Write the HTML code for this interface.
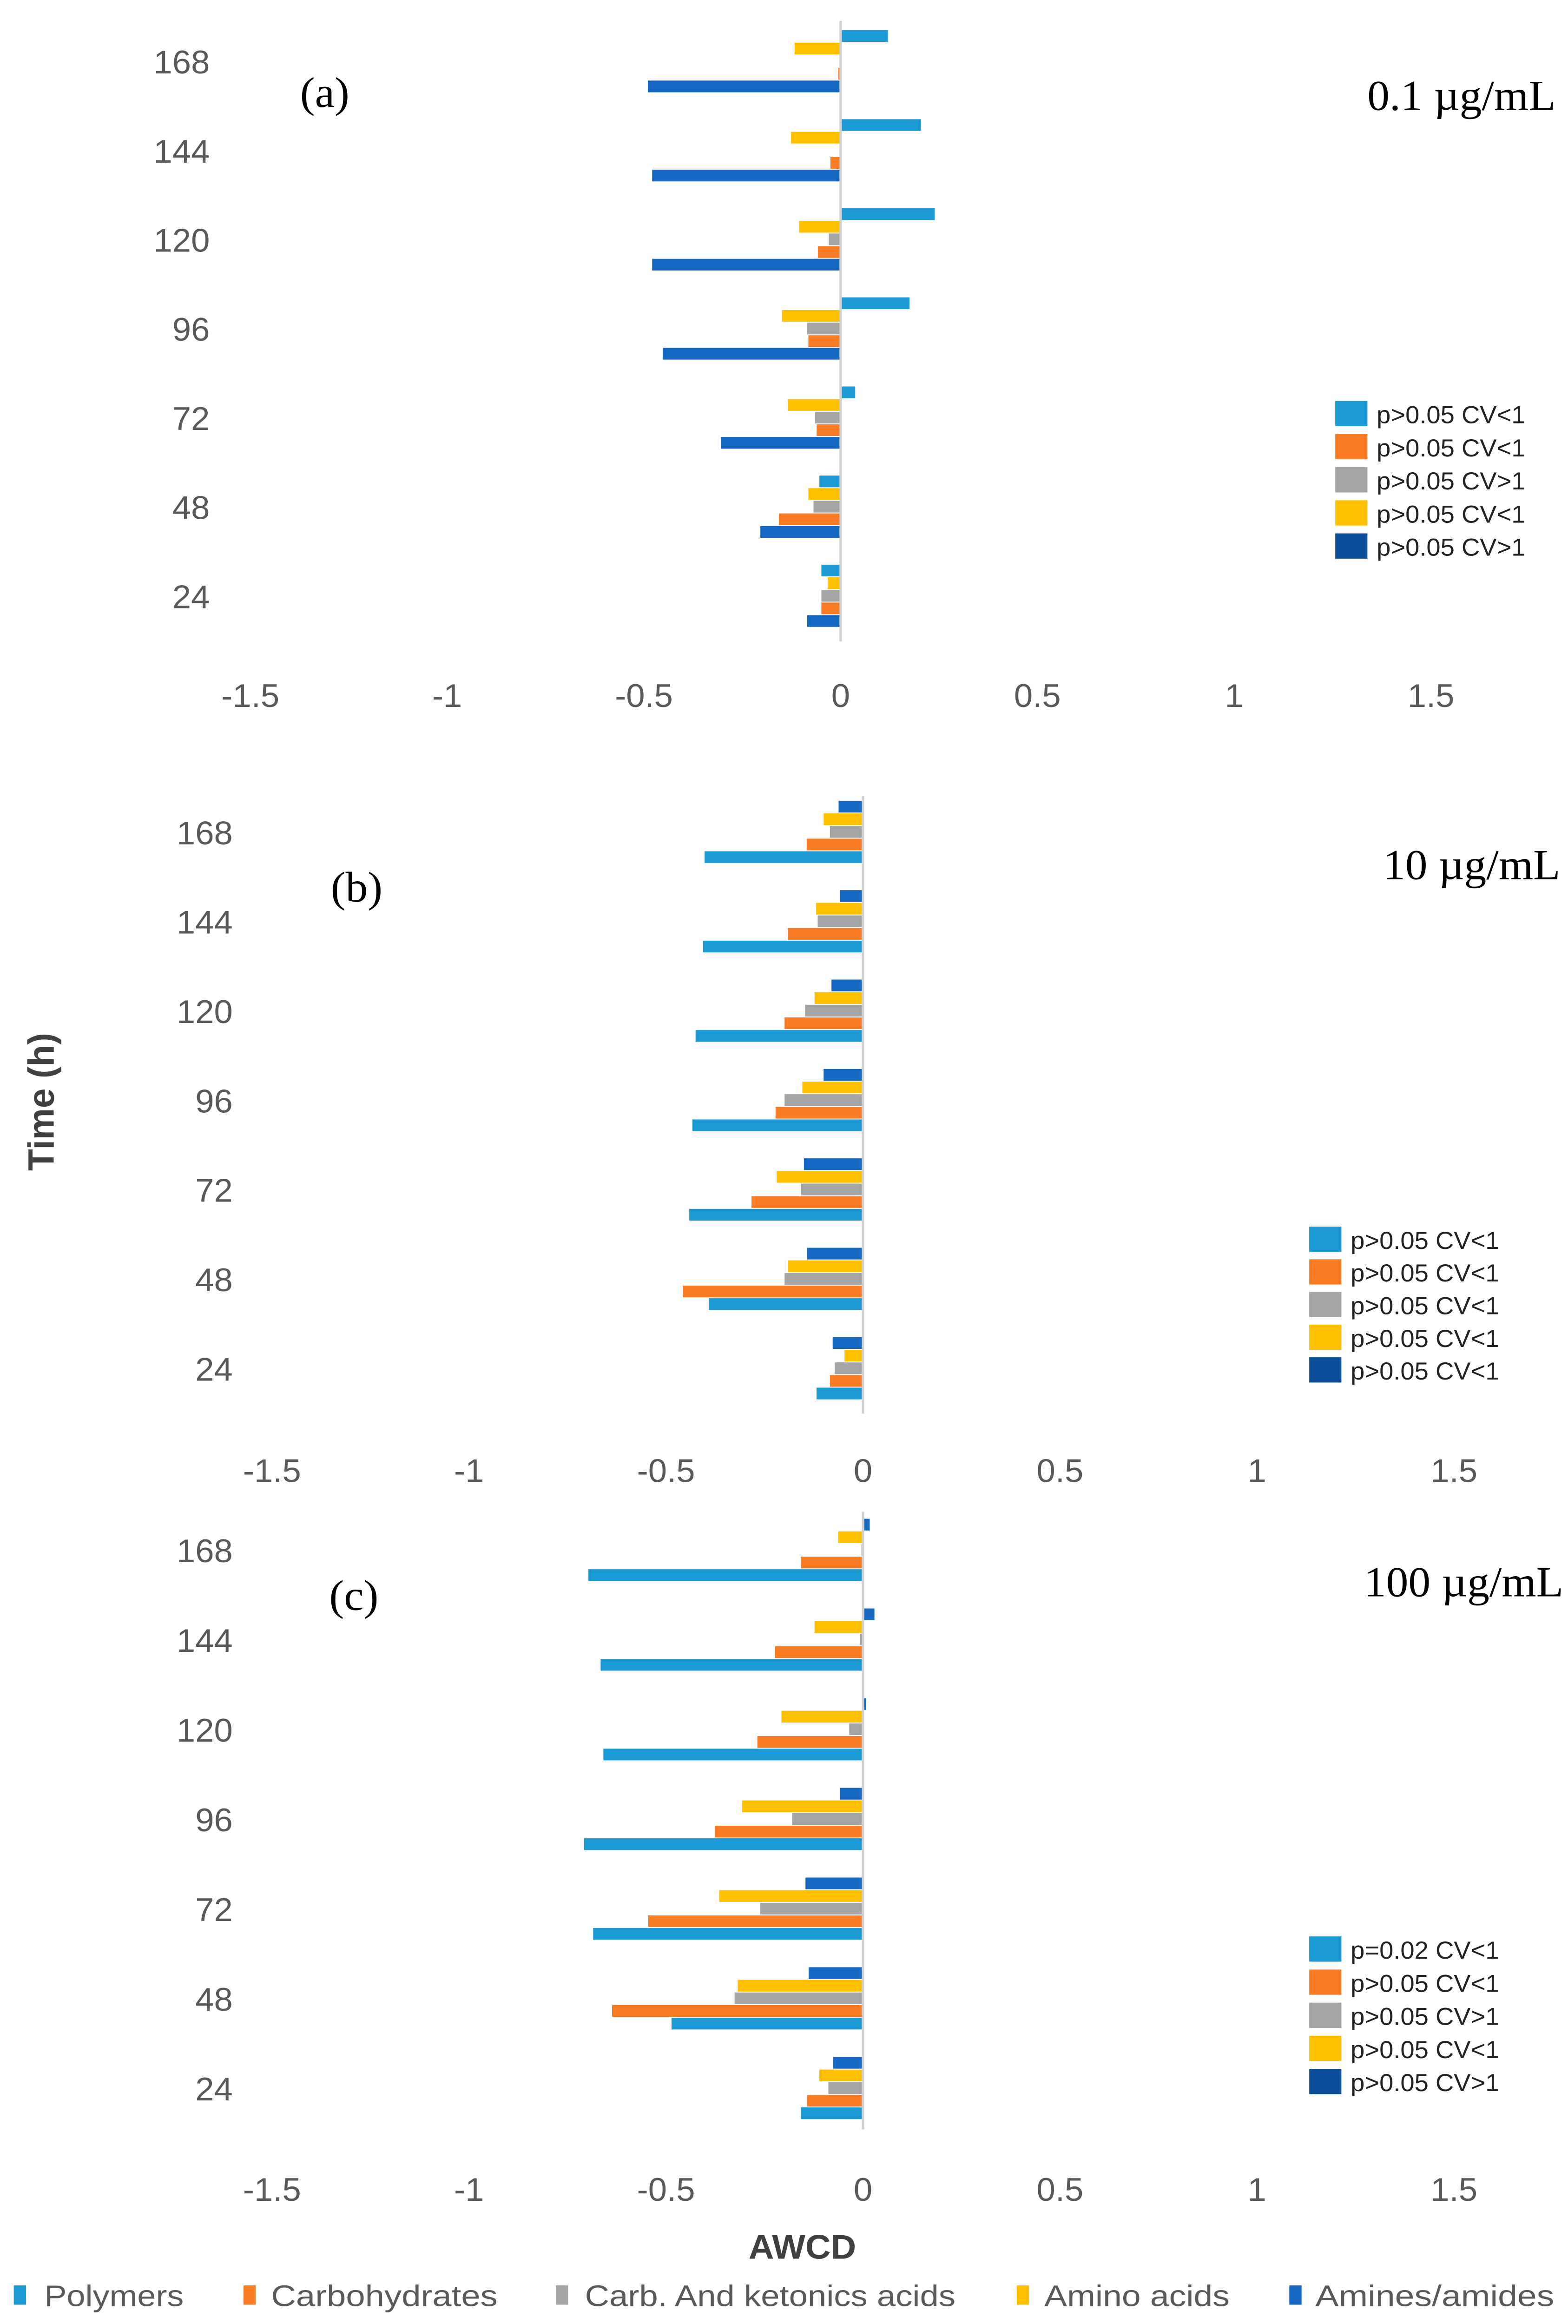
<!DOCTYPE html>
<html><head><meta charset="utf-8"><style>html,body{margin:0;padding:0;background:#fff;width:100vw;height:100vh;overflow:hidden}svg{display:block;position:fixed;left:0;top:0;width:100vw;height:100vh}</style></head>
<body>
<svg id="chart" xmlns="http://www.w3.org/2000/svg" viewBox="0 0 1024 1565" preserveAspectRatio="none" font-family="'Liberation Sans', sans-serif">
<rect width="1024" height="1565" fill="#fff"/>
</svg>
<script>
const categories = [168, 144, 120, 96, 72, 48, 24];
const seriesNames = ["Polymers", "Carbohydrates", "Carb. And ketonics acids", "Amino acids", "Amines/amides"];
const xTicks = [-1.5, -1, -0.5, 0, 0.5, 1, 1.5];
// Panel (a) 0.1 ug/mL, values by category (168..24)
const aPolymers = [0.12, 0.204, 0.239, 0.175, 0.037, -0.054, -0.049];
const aCarbohydrates = [-0.006, -0.026, -0.058, -0.082, -0.061, -0.157, -0.049];
const aCarbAcids = [0, 0, -0.03, -0.085, -0.065, -0.069, -0.049];
const aAminoAcids = [-0.117, -0.126, -0.105, -0.149, -0.134, -0.082, -0.033];
const aAmines = [-0.49, -0.479, -0.479, -0.452, -0.304, -0.204, -0.085];
// Panel (b) 10 ug/mL
const bPolymers = [-0.402, -0.406, -0.425, -0.433, -0.441, -0.391, -0.118];
const bCarbohydrates = [-0.143, -0.191, -0.199, -0.222, -0.283, -0.457, -0.084];
const bCarbAcids = [-0.084, -0.115, -0.147, -0.199, -0.157, -0.199, -0.072];
const bAminoAcids = [-0.1, -0.119, -0.123, -0.154, -0.219, -0.191, -0.047];
const bAmines = [-0.062, -0.058, -0.08, -0.1, -0.15, -0.142, -0.077];
// Panel (c) 100 ug/mL
const cPolymers = [-0.697, -0.666, -0.659, -0.708, -0.685, -0.486, -0.158];
const cCarbohydrates = [-0.158, -0.223, -0.268, -0.376, -0.545, -0.637, -0.142];
const cCarbAcids = [-0.004, -0.008, -0.035, -0.18, -0.261, -0.326, -0.088];
const cAminoAcids = [-0.063, -0.123, -0.207, -0.307, -0.365, -0.318, -0.111];
const cAmines = [0.017, 0.029, 0.008, -0.058, -0.146, -0.138, -0.076];
const legendA = ["p>0.05 CV<1", "p>0.05 CV<1", "p>0.05 CV>1", "p>0.05 CV<1", "p>0.05 CV>1"];
const legendB = ["p>0.05 CV<1", "p>0.05 CV<1", "p>0.05 CV<1", "p>0.05 CV<1", "p>0.05 CV<1"];
const legendC = ["p=0.02 CV<1", "p>0.05 CV<1", "p>0.05 CV>1", "p>0.05 CV<1", "p>0.05 CV>1"];

const NS = "http://www.w3.org/2000/svg";
const svg = document.getElementById("chart");
const colors = ["#1B9AD6", "#F97C24", "#A5A5A5", "#FFC000", "#1468C2"];
const legendColors = ["#1B9AD6", "#F97C24", "#A5A5A5", "#FFC000", "#0B4F9A"];
function mk(tag, attrs, parent) {
  const e = document.createElementNS(NS, tag);
  for (const k in attrs) e.setAttribute(k, attrs[k]);
  (parent || svg).appendChild(e);
  return e;
}
function panel(cfg) {
  const g = mk("g", {});
  
  
  const unit = cfg.unit;
  const xs = v => cfg.zero + v * unit;
  const ys = i => cfg.cat0 + i * cfg.step;
  const bh = 8.5;
  cfg.series.forEach((vals, s) => {
    const slot = cfg.order.indexOf(s);
    vals.forEach((v, i) => {
      const y = ys(i) - 2.5 * bh + slot * bh;
      const x0 = Math.min(xs(0), xs(v)), w = Math.abs(xs(v) - xs(0));
      const r = mk("rect", {x: x0, y: y, width: Math.max(w, 0.01), height: bh - 0.6, fill: colors[s]}, g);
      
      
    });
  });
  const ax = mk("line", {x1: xs(0), x2: xs(0), y1: cfg.axTop, y2: cfg.axBot, stroke: "#D0D0D0", "stroke-width": 1.6}, g);
  
  
  categories.forEach((c, i) => {
    const t = mk("text", {x: cfg.catX, y: ys(i) + 8, "text-anchor": "end", "font-size": 22, fill: "#595959"}, g);
    t.textContent = c;
    
    
  });
  xTicks.forEach(v => {
    const t = mk("text", {x: xs(v), y: cfg.tickY, "text-anchor": "middle", "font-size": 22, fill: "#595959"}, g);
    t.textContent = v;
    
    
  });
  const pt = mk("text", {x: cfg.tagX, y: cfg.tagY, "font-size": 29, "font-family": "'Liberation Serif', serif", fill: "#000"}, g);
  pt.textContent = "(" + cfg.tag + ")";
  
  
  const ct = mk("text", {x: cfg.concX, y: cfg.concY, "text-anchor": "end", "font-size": 29, "font-family": "'Liberation Serif', serif", fill: "#000"}, g);
  ct.textContent = cfg.conc;
  
  
  cfg.legend.forEach((txt, k) => {
    const ly = cfg.legY + k * cfg.legStep;
    const sq = mk("rect", {x: cfg.legX, y: ly - 9, width: 21, height: 17, fill: legendColors[k]}, g);
    
    
    const lt = mk("text", {x: cfg.legX + 27, y: ly + 6, "font-size": 16.5, fill: "#222"}, g);
    lt.textContent = txt;
    
    
  });
}
panel({name: "panel-a", tag: "a", conc: "0.1 \u00b5g/mL", zero: 549, unit: 257, cat0: 41.5, step: 60,
  series: [aPolymers, aCarbohydrates, aCarbAcids, aAminoAcids, aAmines], order: [0, 3, 2, 1, 4],
  axTop: 14, axBot: 432, catX: 137, tickY: 476, tagX: 196, tagY: 72, concX: 1016, concY: 74,
  legend: legendA, legX: 872, legY: 279, legStep: 22.3});
panel({name: "panel-b", tag: "b", conc: "10 \u00b5g/mL", zero: 563.6, unit: 257.3, cat0: 560.5, step: 60.2,
  series: [bPolymers, bCarbohydrates, bCarbAcids, bAminoAcids, bAmines], order: [4, 3, 2, 1, 0],
  axTop: 536, axBot: 952, catX: 152, tickY: 998, tagX: 216, tagY: 607, concX: 1019, concY: 592,
  legend: legendB, legX: 855, legY: 835, legStep: 22});
panel({name: "panel-c", tag: "c", conc: "100 \u00b5g/mL", zero: 563.6, unit: 257.3, cat0: 1044, step: 60.4,
  series: [cPolymers, cCarbohydrates, cCarbAcids, cAminoAcids, cAmines], order: [4, 3, 2, 1, 0],
  axTop: 1018, axBot: 1434, catX: 152, tickY: 1482, tagX: 215, tagY: 1084, concX: 1021, concY: 1075,
  legend: legendC, legX: 855, legY: 1313, legStep: 22.3});

const yt = mk("text", {x: 0, y: 0, transform: "translate(35,742) rotate(-90)", "text-anchor": "middle", "font-size": 24, "font-weight": "bold", fill: "#404040"});
yt.textContent = "Time (h)";


const xt = mk("text", {x: 524, y: 1521, "text-anchor": "middle", "font-size": 23, "font-weight": "bold", fill: "#404040"});
xt.textContent = "AWCD";


const bottomSwatchX = [9, 159, 363, 664, 842];
const bottomTextX = [29, 177, 382, 682, 859];
const bottomTextW = [91, 148, 242, 121, 156];
seriesNames.forEach((n, k) => {
  const sq = mk("rect", {x: bottomSwatchX[k], y: 1539, width: 8, height: 13, fill: colors[k]});
  
  
  const t = mk("text", {x: bottomTextX[k], y: 1553, "font-size": 20, fill: "#595959", textLength: bottomTextW[k], lengthAdjust: "spacingAndGlyphs"});
  t.textContent = n;
  
  
});
</script>
</body></html>
